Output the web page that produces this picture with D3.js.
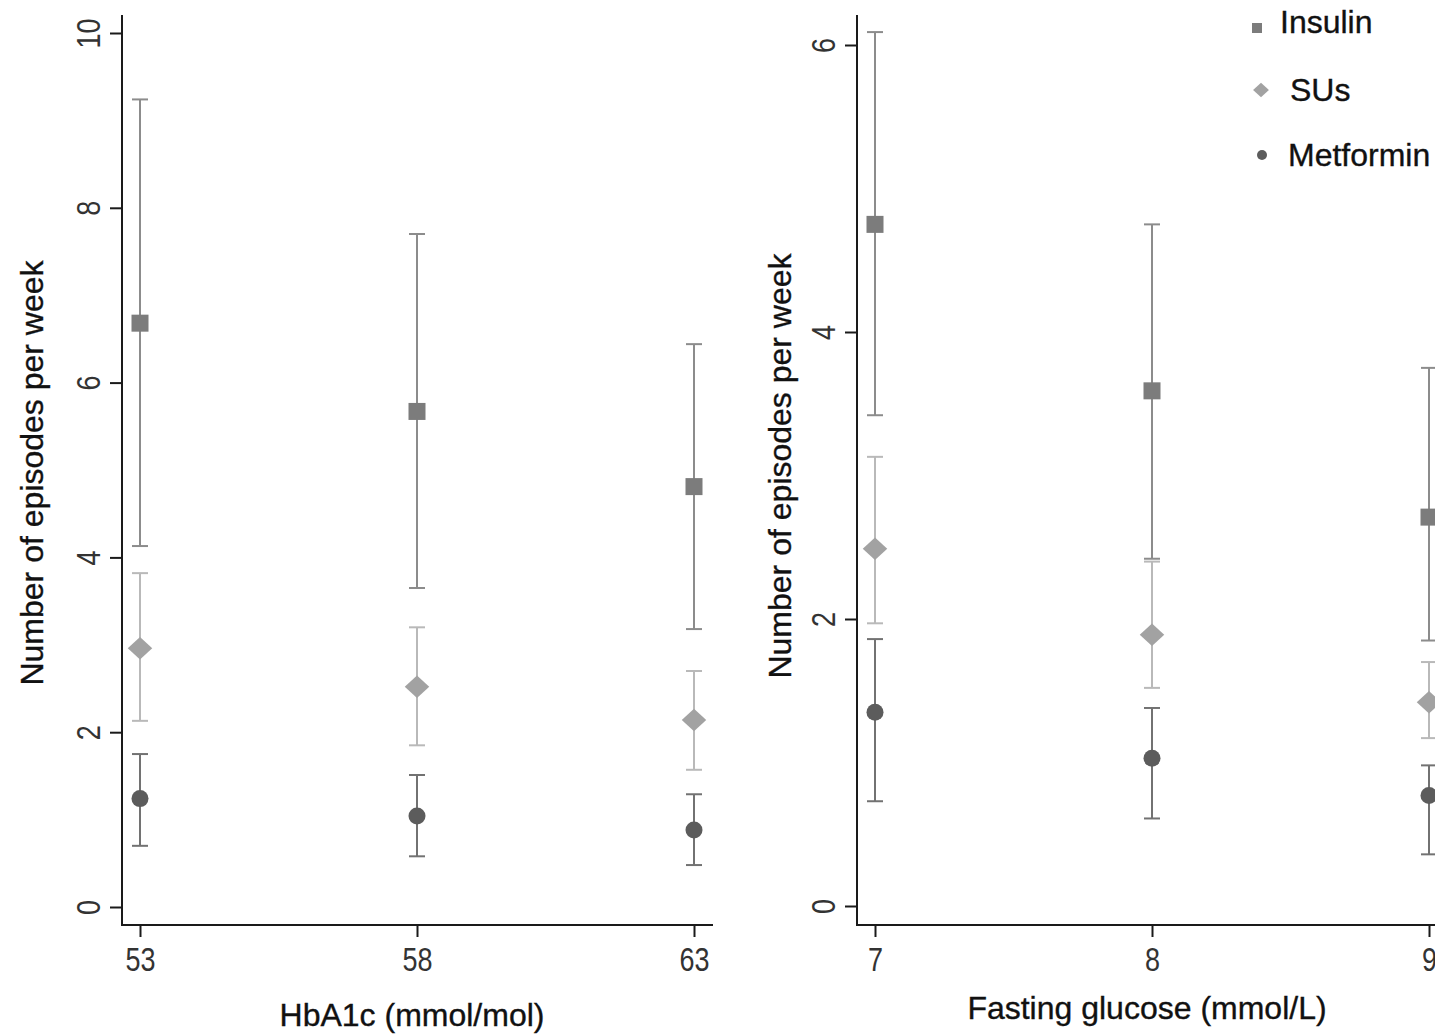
<!DOCTYPE html>
<html><head><meta charset="utf-8">
<script src="https://cdn.jsdelivr.net/npm/d3@7"></script>
<style>
html,body{margin:0;padding:0;background:#fff;}
svg{display:block;}
.tick text{font-family:"Liberation Sans",Arial,sans-serif;font-size:30px;fill:#333;}
.title{font-family:"Liberation Sans",Arial,sans-serif;font-size:32px;fill:#111;stroke:#111;stroke-width:0.35px;}
</style></head>
<body>
<svg id="chart" width="1435" height="1034"></svg>
<script>
// ---- data ----
const hba1c = [53, 58, 63];
const hbInsulin = [6.68, 5.67, 4.81];
const hbInsulinLo = [4.13, 3.65, 3.18];
const hbInsulinHi = [9.24, 7.70, 6.44];
const hbSU = [2.96, 2.52, 2.14];
const hbSULo = [2.13, 1.85, 1.57];
const hbSUHi = [3.82, 3.20, 2.70];
const hbMet = [1.24, 1.04, 0.88];
const hbMetLo = [0.70, 0.58, 0.48];
const hbMetHi = [1.75, 1.51, 1.29];

const glucose = [7, 8, 9];
const fgInsulin = [4.75, 3.59, 2.71];
const fgInsulinLo = [3.42, 2.42, 1.85];
const fgInsulinHi = [6.09, 4.75, 3.75];
const fgSU = [2.49, 1.89, 1.42];
const fgSULo = [1.97, 1.52, 1.17];
const fgSUHi = [3.13, 2.40, 1.70];
const fgMet = [1.35, 1.03, 0.77];
const fgMetLo = [0.73, 0.61, 0.36];
const fgMetHi = [1.86, 1.38, 0.98];

const leftYTicks = [0, 2, 4, 6, 8, 10];
const rightYTicks = [0, 2, 4, 6];
const seriesNames = ["Insulin", "SUs", "Metformin"];
const xTitleLeft = "HbA1c (mmol/mol)";
const xTitleRight = "Fasting glucose (mmol/L)";
const yTitle = "Number of episodes per week";

// ---- styles ----
const style = {
  Insulin:   {marker: "square",  fill: "#7c7c7c", line: "#8c8c8c"},
  SUs:       {marker: "diamond", fill: "#a2a2a2", line: "#b9b9b9"},
  Metformin: {marker: "circle",  fill: "#5c5c5c", line: "#727272"}
};

const svg = d3.select("#chart");

function drawMarker(g, type, cx, cy, sz, fill) {
  if (type === "square") {
    g.append("rect").attr("x", cx - sz/2).attr("y", cy - sz/2).attr("width", sz).attr("height", sz).attr("fill", fill);
  } else if (type === "diamond") {
    const w = sz * 0.72, h = sz * 0.66;
    g.append("path").attr("d", `M${cx-w},${cy}L${cx},${cy-h}L${cx+w},${cy}L${cx},${cy+h}Z`).attr("fill", fill);
  } else {
    g.append("circle").attr("cx", cx).attr("cy", cy).attr("r", sz/2).attr("fill", fill);
  }
}

function panel(cfg) {
  const g = svg.append("g");
  const x = d3.scaleLinear().domain(cfg.xDomain).range(cfg.xRange);
  const y = d3.scaleLinear().domain(cfg.yDomain).range(cfg.yRange);

  g.append("line").attr("x1", cfg.axisX).attr("x2", cfg.axisX).attr("y1", 15).attr("y2", 926)
    .attr("stroke", "#1a1a1a").attr("stroke-width", 2);
  g.append("line").attr("x1", cfg.axisX - 1).attr("x2", cfg.axisXEnd).attr("y1", 925).attr("y2", 925)
    .attr("stroke", "#1a1a1a").attr("stroke-width", 2);

  const ya = g.append("g").attr("transform", `translate(${cfg.axisX},0)`)
    .call(d3.axisLeft(y).tickValues(cfg.yTicks).tickSize(12).tickPadding(0).tickFormat(d3.format("d")));
  ya.select(".domain").remove();
  ya.selectAll(".tick line").attr("stroke", "#1a1a1a").attr("stroke-width", 2);
  ya.selectAll(".tick text").attr("x", null).attr("dy", null)
    .attr("transform", "translate(-22,0) rotate(-90) scale(0.9,1.1)")
    .attr("text-anchor", "middle").attr("y", 0);

  const xa = g.append("g").attr("transform", "translate(0,925)")
    .call(d3.axisBottom(x).tickValues(cfg.xTicks).tickSize(12).tickPadding(0).tickFormat(d3.format("d")));
  xa.select(".domain").remove();
  xa.selectAll(".tick line").attr("stroke", "#1a1a1a").attr("stroke-width", 2);
  xa.selectAll(".tick text").attr("dy", null).attr("y", 0)
    .attr("transform", "translate(0,46) scale(0.9,1.1)");

  g.append("text").attr("class", "title").attr("text-anchor", "middle")
    .attr("transform", `translate(${cfg.yTitleX},${cfg.yTitleY}) rotate(-90)`).text(yTitle);
  g.append("text").attr("class", "title").attr("text-anchor", "middle")
    .attr("x", cfg.xTitleX).attr("y", cfg.xTitleY).text(cfg.xTitle);

  cfg.series.forEach(s => {
    const st = style[s.name];
    const sg = g.append("g");
    cfg.xs.forEach((xv, i) => {
      const cx = x(xv);
      sg.append("line").attr("x1", cx).attr("x2", cx).attr("y1", y(s.lo[i])).attr("y2", y(s.hi[i]))
        .attr("stroke", st.line).attr("stroke-width", 2);
      [s.lo[i], s.hi[i]].forEach(v => {
        sg.append("line").attr("x1", cx - 8).attr("x2", cx + 8).attr("y1", y(v)).attr("y2", y(v))
          .attr("stroke", st.line).attr("stroke-width", 2);
      });
    });
    cfg.xs.forEach((xv, i) => {
      drawMarker(sg, st.marker, x(xv), y(s.mid[i]), 17, st.fill);
    });
  });
}

panel({
  xDomain: [53, 63], xRange: [140, 694], yDomain: [0, 10], yRange: [907, 33],
  axisX: 122, axisXEnd: 713, xTicks: hba1c, yTicks: leftYTicks, xs: hba1c,
  yTitleX: 43, yTitleY: 473, xTitleX: 412, xTitleY: 1026, xTitle: xTitleLeft,
  series: [
    {name: "Insulin", mid: hbInsulin, lo: hbInsulinLo, hi: hbInsulinHi},
    {name: "SUs", mid: hbSU, lo: hbSULo, hi: hbSUHi},
    {name: "Metformin", mid: hbMet, lo: hbMetLo, hi: hbMetHi}
  ]
});

panel({
  xDomain: [7, 9], xRange: [875, 1429], yDomain: [0, 6], yRange: [906, 45],
  axisX: 857, axisXEnd: 1440, xTicks: glucose, yTicks: rightYTicks, xs: glucose,
  yTitleX: 791, yTitleY: 466, xTitleX: 1147, xTitleY: 1019, xTitle: xTitleRight,
  series: [
    {name: "Insulin", mid: fgInsulin, lo: fgInsulinLo, hi: fgInsulinHi},
    {name: "SUs", mid: fgSU, lo: fgSULo, hi: fgSUHi},
    {name: "Metformin", mid: fgMet, lo: fgMetLo, hi: fgMetHi}
  ]
});

const legend = svg.append("g");
const legPos = [
  {mx: 1257, my: 28, tx: 1280, ty: 22, sz: 10},
  {mx: 1261, my: 90, tx: 1290, ty: 90, sz: 11},
  {mx: 1262, my: 155, tx: 1288, ty: 155, sz: 10}
];
seriesNames.forEach((n, i) => {
  const p = legPos[i];
  drawMarker(legend, style[n].marker, p.mx, p.my, p.sz, style[n].fill);
  legend.append("text").attr("class", "title").attr("x", p.tx).attr("y", p.ty)
    .attr("dominant-baseline", "central").text(n);
});
</script>
</body></html>
